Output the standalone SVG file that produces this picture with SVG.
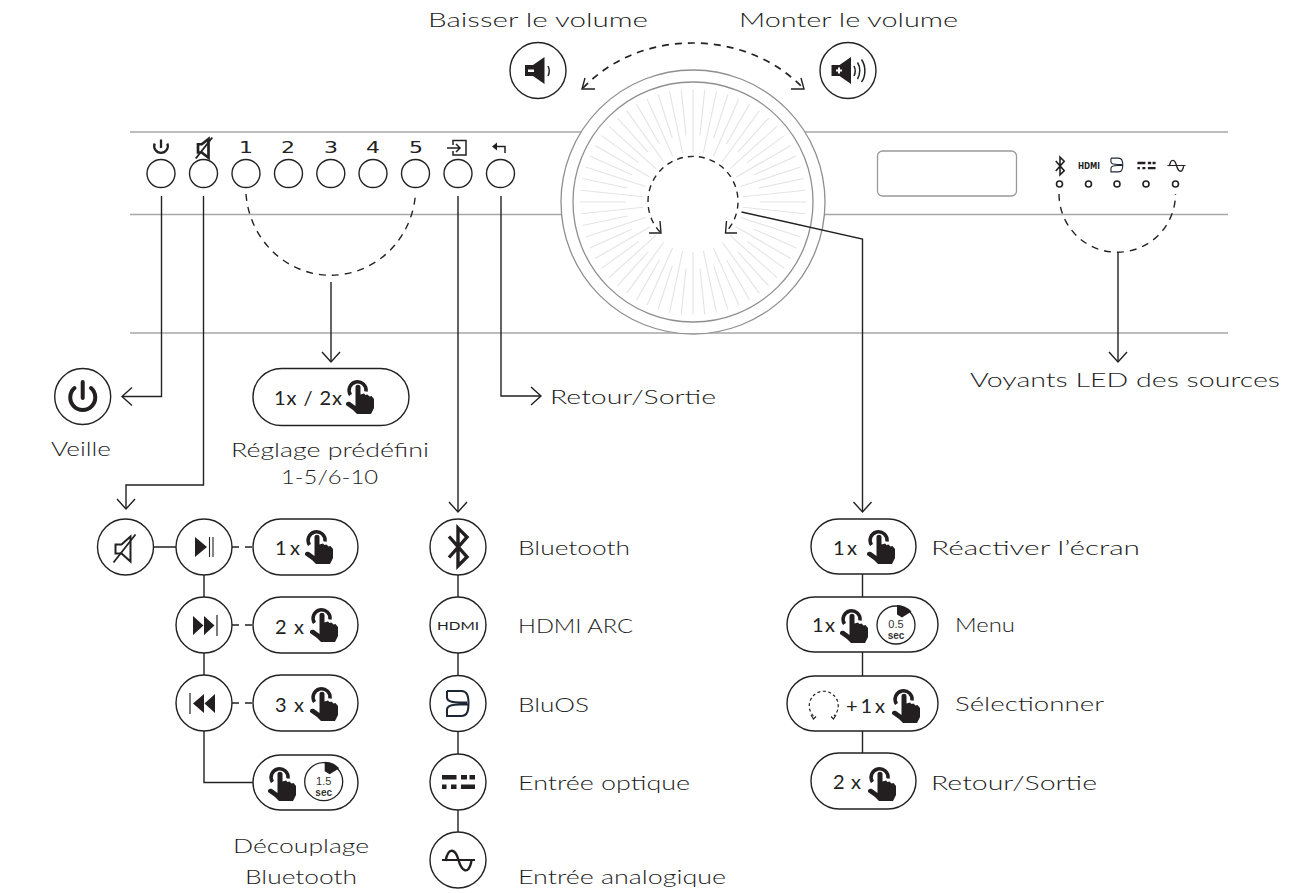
<svg xmlns="http://www.w3.org/2000/svg" width="1293" height="893" viewBox="0 0 1293 893">
<style>
.panel{stroke:#a8a8a8;stroke-width:1.4;fill:none}
.ring{stroke:#8f8f8f;stroke-width:1.3;fill:#fff}
.spoke{stroke:#e4e4e4;stroke-width:1.1}
.n{fill:#fff;stroke:#222;stroke-width:1.4}
.c{fill:none;stroke:#222;stroke-width:1.4}
.d{fill:none;stroke:#222;stroke-width:1.4;stroke-dasharray:7 6}
.i{fill:none;stroke:#222;stroke-width:1.5}
.f{fill:#231f20}
text{font-family:Lato,"Liberation Sans",sans-serif;fill:#333}
.l{font-size:20px;font-weight:300;fill:#1c1c1c}
.p{font-size:20px;font-weight:400;fill:#222}
.t{font-family:"Liberation Sans",Arial,sans-serif;font-size:11px;text-anchor:middle;fill:#333}
.h{font-family:"DejaVu Sans",sans-serif;fill:#222}
.k{font-family:"DejaVu Sans",sans-serif;font-size:16px;fill:#222}
</style>
<defs>
<marker id="a" markerUnits="userSpaceOnUse" markerWidth="24" markerHeight="24" refX="12" refY="12" orient="auto" viewBox="0 0 24 24" overflow="visible"><path d="M2 3L12 12L2 21" fill="none" stroke="#222" stroke-width="1.4"/></marker>
<g id="hand"><path d="M4.500 17A8.500 8.500 0 1 1 20 13.500" fill="none" stroke="#231f20" stroke-width="3.500"/><path class="f" d="M9.500 9C9.500 6 14.500 6 14.500 9V16.500L18 15.500L19.500 17L21.500 16.500L23.500 18.500L25.500 18L28 21V30L25 36H11L7 32L0 27C-.5 24 2 23 4 24L9.500 28Z"/></g>
<g id="timer"><circle r="19" fill="#fff" stroke="#222" stroke-width="1.300"/><path class="f" d="M1 -20A20 20 0 0 1 15.500 -13.500L6 -7.500L1 -10.500Z"/></g>
<g id="mute"><path d="M-9 -4H-3L6 -12V13L-3 5H-9Z" fill="none" stroke="#222" stroke-width="2"/><path d="M-11 14L11 -14" fill="none" stroke="#222" stroke-width="1.800"/></g>
<g id="mute-b"><path d="M-8 -5H-3L6 -12V13L-3 6H-8Z" fill="none" stroke="#222" stroke-width="3.600"/><path d="M-11 14L11 -14" fill="none" stroke="#222" stroke-width="2.600"/></g>
<path id="bt" d="M-9 -10.500L9 10L0 19V-19L9 -10L-9 10.500" fill="none" stroke="#231f20" stroke-width="3.400"/>
<path id="blu" d="M-11 -12.500H3C10 -12.500 10.500 -6 10.500 0C10.500 6 10 12.500 3 12.500H-11V6C-11 2 -6 1 2 1H10M-11 -12.500V-6C-11 -2 -6 -1 2 -1H9" fill="none" stroke="#1d2733" stroke-width="2"/>
<path id="opt" class="f" d="M-16.500 -7H-2V-2.500H-16.500ZM2.500 -7H8.500V-2.500H2.500ZM11 -7H16.500V-2.500H11ZM-16.500 2.500H-12V7H-16.500ZM-7.500 2.500H-2V7H-7.500ZM2.500 2.500H16.500V7H2.500Z"/>
<g id="ana"><path d="M-16.500 0H16.500" fill="none" stroke="#231f20" stroke-width="1.800"/><path d="M-13 1C-10 -14 -3 -11 0 0S10 16 13 1" fill="none" stroke="#231f20" stroke-width="2.400"/></g>
<line id="s1" class="spoke" x1="693" y1="89" x2="693" y2="152"/>
<line id="s2" class="spoke" x1="693" y1="89" x2="693" y2="135"/>
<g id="sp"><use href="#s1"/><use href="#s2" transform="rotate(6 693 202)"/></g>
<g id="sq"><use href="#sp"/><use href="#sp" transform="rotate(12 693 202)"/><use href="#sp" transform="rotate(24 693 202)"/><use href="#sp" transform="rotate(36 693 202)"/><use href="#sp" transform="rotate(48 693 202)"/></g>
</defs>
<rect width="1293" height="893" fill="#fff"/>

<g id="panel">
<path class="panel" d="M130 132H1228M130 214.500H1228M130 333H1228"/>
<circle class="ring" cx="693" cy="202" r="132"/>
<circle class="ring" cx="693" cy="202" r="120"/>
<use href="#sq"/><use href="#sq" transform="rotate(60 693 202)"/><use href="#sq" transform="rotate(120 693 202)"/><use href="#sq" transform="rotate(180 693 202)"/><use href="#sq" transform="rotate(240 693 202)"/><use href="#sq" transform="rotate(300 693 202)"/>
<rect x="877.500" y="151" width="139" height="45" rx="5" fill="#fff" stroke="#999" stroke-width="1.300"/>
</g>

<g id="connectors">
<path class="c" d="M161.500 196V396.500H122" marker-end="url(#a)"/>
<path class="c" d="M203.500 196V485H126V509" marker-end="url(#a)"/>
<path class="c" d="M331 282V362" marker-end="url(#a)"/>
<path class="c" d="M458 196V512" marker-end="url(#a)"/>
<path class="c" d="M501 196V396H541" marker-end="url(#a)"/>
<path class="c" d="M741.500 212L862.500 239V512" marker-end="url(#a)"/>
<path class="c" d="M1118 252V362" marker-end="url(#a)"/>
<path class="d" d="M246 194A85 88 0 0 0 415.500 194"/>
<path class="d" d="M1059 194A58 58 0 0 0 1175.500 194"/>
<path class="d" style="stroke-width:1.700" d="M583 88C640 28 745 28 803 88"/>
<path class="c" d="M585 78L582 89H595M801 78L804 89H791"/>
<path class="d" style="stroke-dasharray:6 5" d="M660 232A45 45 0 1 1 726 232"/>
<path class="c" d="M660 221L661 233H649M726.500 221L725.500 233H737"/>
<path class="c" d="M153 547H176M204 575V597M204 653V675M204 731V782.500H253M458 575V597M458 653V675M458 731V754M458 810V832M862.500 574V597M862.500 652V676M862.500 731V753"/>
<path class="d" d="M232 547H253M232 625H253M232 703H253"/>
</g>

<g id="top-icons">
<path d="M154.700 143.500A6.800 6.800 0 1 0 167.300 143.500M161 139.500V148" class="i" style="stroke-width:2.300"/>
<use href="#mute-b" transform="translate(204 148) scale(.75)"/>
<text class="k" x="239" y="153" textLength="14" lengthAdjust="spacingAndGlyphs">1</text>
<text class="k" x="281" y="153" textLength="14" lengthAdjust="spacingAndGlyphs">2</text>
<text class="k" x="324" y="153" textLength="14" lengthAdjust="spacingAndGlyphs">3</text>
<text class="k" x="366" y="153" textLength="14" lengthAdjust="spacingAndGlyphs">4</text>
<text class="k" x="409" y="153" textLength="14" lengthAdjust="spacingAndGlyphs">5</text>
<path class="i" d="M453 145V140.500H466V155H453V151M447 148H460M456 144L460 148L456 152"/>
<path class="i" d="M505 153V146.500H494"/><path class="f" d="M492 146.500L497 142.500V150.500Z"/>
<use href="#bt" transform="translate(1060 166) scale(.47)"/>
<text class="h" x="1078" y="169" font-size="8" font-weight="bold" textLength="22" lengthAdjust="spacingAndGlyphs">HDMI</text>
<use href="#blu" transform="translate(1117 165) scale(.55)"/>
<use href="#opt" transform="translate(1146.500 165.500) scale(.55)"/>
<use href="#ana" transform="translate(1176.500 165.500) scale(.55)"/>
</g>
<g id="buttons">
<circle class="n" cx="161" cy="173.500" r="14"/><circle class="n" cx="203.500" cy="173.500" r="14"/><circle class="n" cx="246" cy="173.500" r="14"/><circle class="n" cx="288.500" cy="173.500" r="14"/><circle class="n" cx="330.800" cy="173.500" r="14"/><circle class="n" cx="373" cy="173.500" r="14"/><circle class="n" cx="415.500" cy="173.500" r="14"/><circle class="n" cx="458" cy="173.500" r="14"/><circle class="n" cx="500.500" cy="173.500" r="14"/>
</g>
<g id="leds" fill="#fff" stroke="#222" stroke-width="1.600">
<circle cx="1059.500" cy="184" r="3"/><circle cx="1088.500" cy="184" r="3"/><circle cx="1117" cy="184" r="3"/><circle cx="1146" cy="184" r="3"/><circle cx="1175.500" cy="184" r="3"/>
</g>

<g id="vol-down"><circle class="n" cx="538" cy="70.500" r="28"/><path class="f" d="M525 65H533L544.500 57V84L533 76H525Z"/><path d="M528 69.500H534V72H528Z" fill="#fff"/><path class="i" d="M548 66C549.500 69 549.500 73 548 76"/></g>
<g id="vol-up"><circle class="n" cx="848" cy="70.500" r="28"/><path class="f" d="M831.500 65H839.500L851 57V84L839.500 76H831.500Z"/><path d="M838 67.500V69.500H836V71.500H838V73.500H840V71.500H842V69.500H840V67.500Z" fill="#fff"/><path class="i" d="M854 66C855.500 69 855.500 73 854 76M857.500 62.500C860.500 67 860.500 74 857.500 79M861.500 59.500C866 66 866 76 861.500 82"/></g>
<text class="l" x="428" y="27" textLength="220" lengthAdjust="spacingAndGlyphs">Baisser le volume</text>
<text class="l" x="739" y="27" textLength="219" lengthAdjust="spacingAndGlyphs">Monter le volume</text>

<g id="standby"><circle class="n" cx="82.700" cy="396.500" r="28"/><path d="M74.500 388A12.500 12.500 0 1 0 91 388M82.700 382V398" fill="none" stroke="#231f20" stroke-width="4" stroke-linecap="round"/>
<text class="l" x="51" y="456" textLength="60" lengthAdjust="spacingAndGlyphs">Veille</text></g>

<g id="preset"><rect class="n" x="253" y="368.500" width="156" height="57" rx="28.500"/>
<text class="p" x="274" y="405" textLength="68" lengthAdjust="spacing">1x / 2x</text>
<use href="#hand" x="346" y="378"/>
<text class="l" x="231" y="457" textLength="198" lengthAdjust="spacingAndGlyphs">Réglage prédéfini</text>
<text class="l" x="281" y="484" textLength="97" lengthAdjust="spacingAndGlyphs">1-5/6-10</text></g>

<g id="return-top"><text class="l" x="550" y="404" textLength="166" lengthAdjust="spacingAndGlyphs">Retour/Sortie</text></g>
<g id="led-label"><text class="l" x="970" y="387" textLength="310" lengthAdjust="spacingAndGlyphs">Voyants LED des sources</text></g>

<g id="mute-node"><circle class="n" cx="125.500" cy="547" r="28"/><use href="#mute" transform="translate(124.500 548.500)"/></g>
<g id="play"><circle class="n" cx="204" cy="547" r="28"/><path class="f" d="M195 537L207 547L195 557Z"/><path class="i" style="stroke-width:1.100" d="M209.500 537V557M213 537V557"/></g>
<g id="next"><circle class="n" cx="204" cy="625" r="28"/><path class="f" d="M193 616L203.500 625.500L193 635ZM204 616L214.500 625.500L204 635Z"/><path class="i" style="stroke-width:1.200" d="M217 615V636"/></g>
<g id="prev"><circle class="n" cx="204" cy="703" r="28"/><path class="f" d="M204 694L193 703.500L204 713ZM215 694L204.500 703.500L215 713Z"/><path class="i" style="stroke-width:1.200" d="M190 693V714"/></g>

<g id="p1"><rect class="n" x="253" y="519" width="105" height="56" rx="28"/><text class="p" x="275" y="555" textLength="25" lengthAdjust="spacing">1x</text><use href="#hand" x="305" y="528"/></g>
<g id="p2"><rect class="n" x="253" y="597" width="105" height="56" rx="28"/><text class="p" x="275" y="634" textLength="29" lengthAdjust="spacing">2 x</text><use href="#hand" x="310" y="606"/></g>
<g id="p3"><rect class="n" x="253" y="675" width="105" height="56" rx="28"/><text class="p" x="275" y="712" textLength="29" lengthAdjust="spacing">3 x</text><use href="#hand" x="310" y="685"/></g>
<g id="p4"><rect class="n" x="253" y="755" width="105" height="55" rx="27.500"/><use href="#hand" x="268" y="765"/><use href="#timer" x="323.700" y="781.700"/><text class="t" x="323.700" y="785">1.5</text><text class="t" x="323.700" y="796" font-weight="bold" style="font-size:10px">sec</text>
<text class="l" x="233" y="853" textLength="136" lengthAdjust="spacingAndGlyphs">Découplage</text>
<text class="l" x="245" y="884" textLength="112" lengthAdjust="spacingAndGlyphs">Bluetooth</text></g>

<g id="bluetooth"><circle class="n" cx="458" cy="547" r="28"/><use href="#bt" x="458" y="547"/><text class="l" x="518" y="555" textLength="112" lengthAdjust="spacingAndGlyphs">Bluetooth</text></g>
<g id="hdmi"><circle class="n" cx="458" cy="625" r="28"/><text x="437" y="629.500" font-size="12" textLength="42" lengthAdjust="spacingAndGlyphs" style="fill:#222">HDMI</text><text class="l" x="518" y="633" textLength="115" lengthAdjust="spacingAndGlyphs">HDMI ARC</text></g>
<g id="bluos"><circle class="n" cx="458" cy="703.500" r="28"/><use href="#blu" x="458" y="703.500"/><text class="l" x="518" y="712" textLength="71" lengthAdjust="spacingAndGlyphs">BluOS</text></g>
<g id="optical"><circle class="n" cx="458" cy="782" r="28"/><use href="#opt" x="458.500" y="782"/><text class="l" x="518" y="790" textLength="172" lengthAdjust="spacingAndGlyphs">Entrée optique</text></g>
<g id="analog"><circle class="n" cx="458" cy="860" r="28"/><use href="#ana" x="458.500" y="860"/><text class="l" x="518" y="884" textLength="208" lengthAdjust="spacingAndGlyphs">Entrée analogique</text></g>

<g id="wake"><rect class="n" x="811" y="519" width="105" height="55" rx="27.500"/><text class="p" x="833" y="555" textLength="24" lengthAdjust="spacing">1 x</text><use href="#hand" x="867" y="528"/><text class="l" x="931" y="555" textLength="209" lengthAdjust="spacingAndGlyphs">Réactiver l’écran</text></g>
<g id="menu"><rect class="n" x="787" y="597" width="151" height="55" rx="27.500"/><text class="p" x="812" y="632" textLength="23" lengthAdjust="spacing">1x</text><use href="#hand" x="840" y="607"/><use href="#timer" x="896" y="625"/><text class="t" x="896" y="628">0.5</text><text class="t" x="896" y="639" font-weight="bold" style="font-size:10px">sec</text><text class="l" x="955" y="632" textLength="60" lengthAdjust="spacingAndGlyphs">Menu</text></g>
<g id="select"><rect class="n" x="787" y="676" width="151" height="55" rx="27.500"/><path d="M813.500 716A14.500 14.500 0 1 1 834 716" fill="none" stroke="#222" stroke-width="1.200" stroke-dasharray="3 2.500"/><path class="c" style="stroke-width:1.100" d="M811 715L813.500 719L816 716.500M836 715L833.500 719L831 716.500"/><text class="p" x="846" y="713" textLength="39" lengthAdjust="spacing">+ 1 x</text><use href="#hand" x="892" y="687"/><text class="l" x="955" y="711" textLength="149" lengthAdjust="spacingAndGlyphs">Sélectionner</text></g>
<g id="back"><rect class="n" x="811" y="753" width="105" height="56" rx="28"/><text class="p" x="833" y="789" textLength="28" lengthAdjust="spacing">2 x</text><use href="#hand" x="868" y="765"/><text class="l" x="931" y="790" textLength="166" lengthAdjust="spacingAndGlyphs">Retour/Sortie</text></g>
</svg>
